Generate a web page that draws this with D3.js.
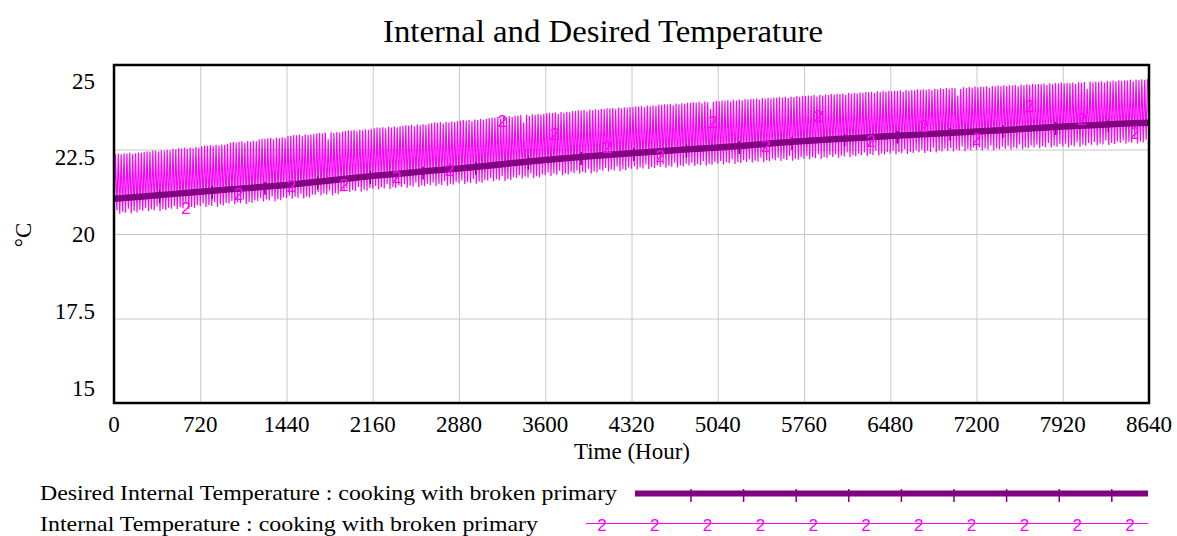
<!DOCTYPE html>
<html>
<head>
<meta charset="utf-8">
<script src="https://cdn.jsdelivr.net/npm/d3@7"></script>
<style>
  body { margin: 0; background: #fff; }
  text { font-family: "Liberation Serif", "Times New Roman", serif; }
</style>
</head>
<body>
<svg id="chart" width="1177" height="536"></svg>
<script>
const xTicks = [0, 720, 1440, 2160, 2880, 3600, 4320, 5040, 5760, 6480, 7200, 7920, 8640];
const yTicks = [15, 17.5, 20, 22.5, 25];

// desired internal temperature, one value every 240 hours
const desiredTemp = [21.04, 21.11, 21.18, 21.25, 21.32, 21.38, 21.45, 21.54, 21.63, 21.72,
    21.79, 21.87, 21.94, 22.02, 22.11, 22.19, 22.26, 22.33, 22.39, 22.45,
    22.51, 22.56, 22.62, 22.69, 22.75, 22.80, 22.85, 22.90, 22.94, 22.99,
    23.03, 23.08, 23.13, 23.18, 23.22, 23.26, 23.29];

// internal temperature, daily peak (cooking) and daily trough
const internalHigh = [
    22.37,22.38,22.36,22.39,22.38,22.40,22.37,22.39,22.41,22.40,
    22.43,22.45,22.44,22.47,22.46,22.44,22.48,22.46,22.49,22.47,
    22.52,22.51,22.54,22.53,22.55,22.52,22.56,22.54,22.57,22.55,
    22.60,22.62,22.61,22.63,22.60,22.64,22.62,22.65,22.63,22.66,
    22.70,22.72,22.71,22.73,22.74,22.70,22.75,22.73,22.76,22.74,
    22.80,22.82,22.81,22.83,22.84,22.80,22.85,22.83,22.86,22.84,
    22.90,22.91,22.93,22.92,22.94,22.90,22.95,22.93,22.94,22.96,
    22.97,22.99,22.98,23.00,22.80,23.01,22.99,23.02,23.00,23.03,
    23.05,23.07,23.06,23.08,23.04,23.09,23.07,23.10,23.08,23.11,
    23.13,23.15,23.14,23.16,23.12,23.17,23.15,23.18,23.16,23.19,
    23.20,23.22,23.21,23.23,23.19,23.24,23.22,23.25,23.23,23.26,
    23.28,23.30,23.29,23.31,23.27,23.32,23.30,23.33,23.31,23.34,
    23.35,23.37,23.36,23.38,23.34,23.39,23.37,23.40,23.38,23.41,
    23.43,23.45,23.44,23.46,23.42,23.47,23.45,23.48,23.46,23.49,
    23.50,23.52,23.30,23.53,23.49,23.54,23.52,23.55,23.53,23.56,
    23.57,23.59,23.58,23.60,23.56,23.61,23.59,23.62,23.60,23.63,
    23.64,23.66,23.65,23.67,23.63,23.68,23.66,23.69,23.67,23.70,
    23.70,23.72,23.71,23.73,23.69,23.74,23.72,23.75,23.73,23.76,
    23.76,23.78,23.77,23.79,23.75,23.80,23.78,23.81,23.79,23.82,
    23.82,23.84,23.83,23.85,23.81,23.86,23.84,23.87,23.85,23.88,
    23.88,23.90,23.89,23.91,23.87,23.92,23.90,23.70,23.91,23.94,
    23.93,23.95,23.94,23.96,23.92,23.97,23.95,23.98,23.96,23.99,
    23.98,24.00,23.99,24.01,23.97,24.02,24.00,24.03,24.01,24.04,
    24.03,24.05,24.04,24.06,24.02,24.07,24.05,24.08,24.06,24.09,
    24.08,24.10,24.09,24.11,24.07,24.12,24.10,24.13,24.11,24.14,
    24.13,24.15,24.14,24.16,24.12,24.17,24.15,24.18,24.16,24.19,
    24.18,24.20,24.19,24.21,24.17,24.22,24.20,24.23,24.21,24.24,
    24.22,24.24,24.23,24.25,24.21,24.26,24.24,24.27,24.25,24.28,
    24.26,24.28,24.27,24.29,24.25,24.30,24.28,24.31,24.29,24.32,
    24.30,24.32,24.31,24.10,24.29,24.34,24.32,24.35,24.33,24.36,
    24.34,24.36,24.35,24.37,24.33,24.38,24.36,24.39,24.37,24.40,
    24.38,24.40,24.39,24.41,24.37,24.42,24.40,24.43,24.41,24.44,
    24.42,24.44,24.43,24.45,24.41,24.46,24.44,24.47,24.45,24.48,
    24.45,24.47,24.46,24.48,24.44,24.49,24.47,24.50,24.30,24.51,
    24.49,24.51,24.50,24.52,24.48,24.53,24.51,24.54,24.52,24.55,
    24.53,24.55,24.54,24.56,24.52,24.57,24.55,24.58,24.56,24.59];

const internalLow = [
    20.62,20.70,20.60,20.66,20.63,20.75,20.61,20.68,20.64,20.72,
    20.69,20.76,20.67,20.73,20.70,20.82,20.68,20.74,20.71,20.78,
    20.75,20.83,20.73,20.79,20.76,20.88,20.74,20.80,20.77,20.85,
    20.82,20.90,20.80,20.86,20.83,20.95,20.81,20.87,20.84,20.92,
    20.90,20.98,20.88,20.94,20.91,21.03,20.89,20.95,20.92,21.00,
    20.98,21.06,20.96,21.02,20.99,21.11,20.97,21.03,21.00,21.08,
    21.06,21.14,21.04,21.10,21.07,21.19,21.05,21.11,21.08,21.16,
    21.16,21.24,21.14,21.20,21.17,21.29,21.15,21.21,21.18,21.26,
    21.26,21.34,21.24,21.30,21.27,21.39,21.25,21.31,21.28,21.36,
    21.34,21.42,21.32,21.38,21.35,21.47,21.33,21.39,21.36,21.44,
    21.39,21.47,21.37,21.43,21.40,21.52,21.38,21.44,21.41,21.49,
    21.44,21.52,21.42,21.48,21.45,21.57,21.43,21.49,21.46,21.54,
    21.50,21.58,21.48,21.54,21.51,21.63,21.49,21.55,21.52,21.60,
    21.58,21.66,21.56,21.62,21.59,21.71,21.57,21.63,21.60,21.68,
    21.66,21.74,21.64,21.70,21.67,21.79,21.65,21.71,21.68,21.76,
    21.74,21.82,21.72,21.78,21.75,21.87,21.73,21.79,21.76,21.84,
    21.80,21.88,21.78,21.84,21.81,21.93,21.79,21.85,21.82,21.90,
    21.87,21.95,21.85,21.91,21.88,22.00,21.86,21.92,21.89,21.97,
    21.93,22.01,21.91,21.97,21.94,22.06,21.92,21.98,21.95,22.03,
    21.98,22.06,21.96,22.02,21.99,22.11,21.97,22.03,22.00,22.08,
    22.03,22.11,22.01,22.07,22.04,22.16,22.02,22.08,22.05,22.13,
    22.08,22.16,22.06,22.12,22.09,22.21,22.07,22.13,22.10,22.18,
    22.13,22.21,22.11,22.17,22.14,22.26,22.12,22.18,22.15,22.23,
    22.18,22.26,22.16,22.22,22.19,22.31,22.17,22.23,22.20,22.28,
    22.23,22.31,22.21,22.27,22.24,22.36,22.22,22.28,22.25,22.33,
    22.28,22.36,22.26,22.32,22.29,22.41,22.27,22.33,22.30,22.38,
    22.33,22.41,22.31,22.37,22.34,22.46,22.32,22.38,22.35,22.43,
    22.38,22.46,22.36,22.42,22.39,22.51,22.37,22.43,22.40,22.48,
    22.42,22.50,22.40,22.46,22.43,22.55,22.41,22.47,22.44,22.52,
    22.46,22.54,22.44,22.50,22.47,22.59,22.45,22.51,22.48,22.56,
    22.49,22.57,22.47,22.53,22.50,22.62,22.48,22.54,22.51,22.59,
    22.52,22.60,22.50,22.56,22.53,22.65,22.51,22.57,22.54,22.62,
    22.56,22.64,22.54,22.60,22.57,22.69,22.55,22.61,22.58,22.66,
    22.59,22.67,22.57,22.63,22.60,22.72,22.58,22.64,22.61,22.69,
    22.64,22.72,22.62,22.68,22.65,22.77,22.63,22.69,22.66,22.74,
    22.69,22.77,22.67,22.73,22.70,22.82,22.68,22.74,22.71,22.79];

// where the "2" series markers sit on the internal temperature line
const markerHours = [600, 1040, 1480, 1920, 2360, 2800, 3240, 3680, 4120, 4560,
    5000, 5440, 5880, 6320, 6760, 7200, 7640, 8080, 8520];
const markerTemp = [20.77, 21.2, 21.42, 21.45, 21.7, 21.9, 23.35, 22.97, 22.57, 22.3,
    23.33, 22.6, 23.5, 22.75, 23.2, 22.8, 23.8, 23.4, 23.0];
const desiredMarkerHours = [380, 820, 1260, 1700, 2140, 2580, 3020, 3460, 3900, 4340,
    4780, 5220, 5660, 6100, 6540, 6980, 7420, 7860, 8300];

const svg = d3.select('#chart');
const margin = { top: 65, right: 28, bottom: 133, left: 114 };
const width = +svg.attr('width') - margin.left - margin.right;
const height = +svg.attr('height') - margin.top - margin.bottom;

const x = d3.scaleLinear().domain([0, 8640]).range([0, width]);
const y = d3.scaleLinear().domain([15, 25]).range([height, 0]);
// tick labels in the original are spread a bit tighter than the grid
const yLabel = d3.scaleLinear().domain([15, 25]).range([height - 15, 15.5]);

const g = svg.append('g')
    .attr('transform', 'translate(' + margin.left + ',' + margin.top + ')');

// grid
g.append('g')
    .call(d3.axisBottom(x).tickValues(xTicks).tickSize(height).tickFormat(''))
    .call(a => a.select('.domain').remove())
    .selectAll('line').attr('stroke', '#c8c8c8');
g.append('g')
    .call(d3.axisLeft(y).tickValues(yTicks).tickSize(-width).tickFormat(''))
    .call(a => a.select('.domain').remove())
    .selectAll('line').attr('stroke', '#c8c8c8');

// internal temperature
const internalPts = [];
internalHigh.forEach(function(v, i) {
    internalPts.push([i * 24, internalLow[i]]);
    internalPts.push([i * 24 + 12, v]);
});
const line = d3.line().x(d => x(d[0])).y(d => y(d[1]));
g.append('path')
    .datum(internalPts)
    .attr('d', line)
    .attr('fill', 'none')
    .attr('stroke', '#ff00ff')
    .attr('stroke-width', 1.2);

// desired temperature (thick)
const desiredPts = desiredTemp.map((v, i) => [i * 240, v]);
g.append('path')
    .datum(desiredPts)
    .attr('d', line)
    .attr('fill', 'none')
    .attr('stroke', '#800080')
    .attr('stroke-width', 6.5);

const desiredAt = d3.scaleLinear().domain(desiredPts.map(d => d[0])).range(desiredTemp);
g.selectAll('.dmark')
    .data(desiredMarkerHours)
    .enter().append('line')
    .attr('x1', d => x(d)).attr('x2', d => x(d))
    .attr('y1', d => y(desiredAt(d)) - 5)
    .attr('y2', d => y(desiredAt(d)) + 8)
    .attr('stroke', '#800080')
    .attr('stroke-width', 1.5);

g.selectAll('.imark')
    .data(markerHours)
    .enter().append('text')
    .attr('x', d => x(d))
    .attr('y', (d, i) => y(markerTemp[i]))
    .attr('dy', '0.36em')
    .attr('text-anchor', 'middle')
    .style('font-family', '"Liberation Sans", Arial, sans-serif')
    .style('font-size', '17px')
    .attr('fill', '#ff00ff')
    .text('2');

// frame
g.append('rect')
    .attr('width', width).attr('height', height)
    .attr('fill', 'none')
    .attr('stroke', '#000')
    .attr('stroke-width', 2.5);

// tick labels
g.selectAll('.xl')
    .data(xTicks)
    .enter().append('text')
    .attr('x', d => x(d))
    .attr('y', height + 29)
    .attr('text-anchor', 'middle')
    .style('font-size', '23px')
    .text(d => d);
g.selectAll('.yl')
    .data(yTicks)
    .enter().append('text')
    .attr('x', -19)
    .attr('y', d => yLabel(d))
    .attr('dy', '0.35em')
    .attr('text-anchor', 'end')
    .style('font-size', '23px')
    .text(d => d);

// titles
svg.append('text')
    .attr('x', 603).attr('y', 42)
    .attr('text-anchor', 'middle')
    .attr('textLength', 440).attr('lengthAdjust', 'spacingAndGlyphs')
    .style('font-size', '32px')
    .text('Internal and Desired Temperature');
svg.append('text')
    .attr('x', 632).attr('y', 459)
    .attr('text-anchor', 'middle')
    .style('font-size', '23px')
    .text('Time (Hour)');
svg.append('text')
    .attr('transform', 'translate(31,235) rotate(-90)')
    .attr('text-anchor', 'middle')
    .style('font-size', '23px')
    .text('°C');

// legend
svg.append('text')
    .attr('x', 40).attr('y', 500)
    .attr('textLength', 577).attr('lengthAdjust', 'spacingAndGlyphs')
    .style('font-size', '21.5px')
    .text('Desired Internal Temperature : cooking with broken primary');
svg.append('text')
    .attr('x', 40).attr('y', 531)
    .attr('textLength', 498).attr('lengthAdjust', 'spacingAndGlyphs')
    .style('font-size', '21.5px')
    .text('Internal Temperature : cooking with broken primary');

svg.append('line')
    .attr('x1', 635).attr('x2', 1148).attr('y1', 493.5).attr('y2', 493.5)
    .attr('stroke', '#800080').attr('stroke-width', 6);
svg.selectAll('.ltick')
    .data(d3.range(9))
    .enter().append('line')
    .attr('x1', i => 691 + i * 52.6).attr('x2', i => 691 + i * 52.6)
    .attr('y1', 489).attr('y2', 502)
    .attr('stroke', '#800080').attr('stroke-width', 1.5);

svg.append('line')
    .attr('x1', 586).attr('x2', 1148).attr('y1', 523.5).attr('y2', 523.5)
    .attr('stroke', '#ff00ff').attr('stroke-width', 1.2);
svg.selectAll('.l2')
    .data(d3.range(11))
    .enter().append('text')
    .attr('x', i => 602 + i * 52.8)
    .attr('y', 525)
    .attr('dy', '0.36em')
    .attr('text-anchor', 'middle')
    .style('font-family', '"Liberation Sans", Arial, sans-serif')
    .style('font-size', '17px')
    .attr('fill', '#ff00ff')
    .text('2');
</script>
</body>
</html>
